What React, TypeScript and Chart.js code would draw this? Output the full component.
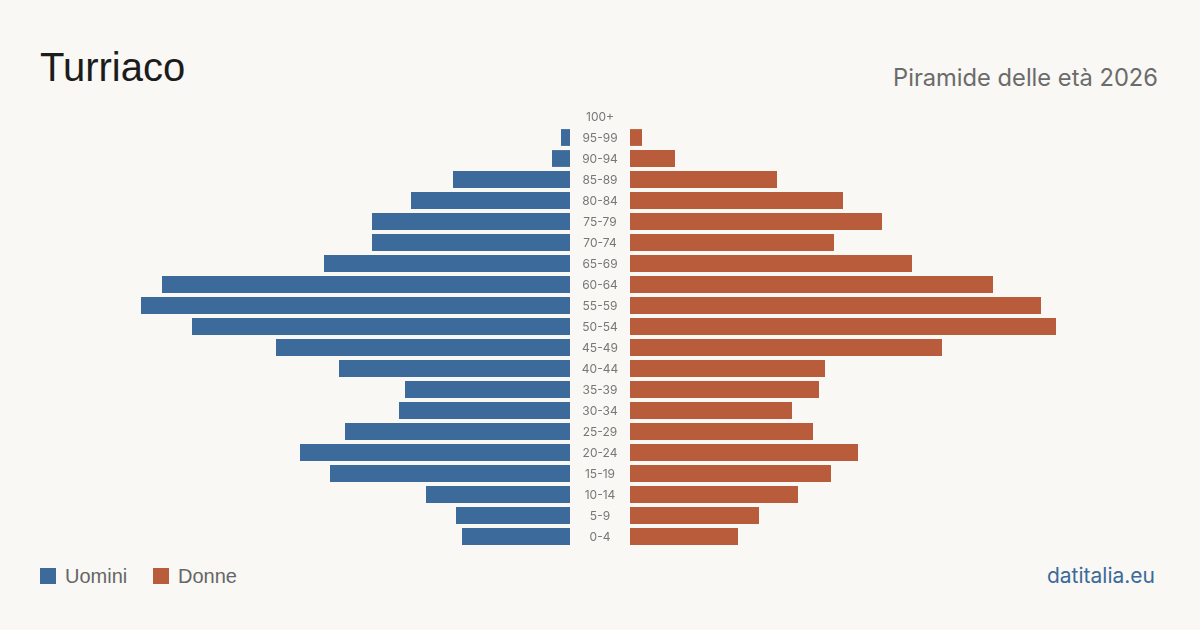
import { useEffect, useRef } from "react";
import { Chart, registerables } from "chart.js";

Chart.register(...registerables);

// Age groups, oldest at the top
const AGE_GROUPS = [
  "100+", "95-99", "90-94", "85-89", "80-84", "75-79", "70-74", "65-69", "60-64", "55-59",
  "50-54", "45-49", "40-44", "35-39", "30-34", "25-29", "20-24", "15-19", "10-14", "5-9", "0-4",
];

// Residents per age group
const MALES = [0, 3, 6, 39, 53, 66, 66, 82, 136, 143, 126, 98, 77, 55, 57, 75, 90, 80, 48, 38, 36];
const FEMALES = [0, 4, 15, 49, 71, 84, 68, 94, 121, 137, 142, 104, 65, 63, 54, 61, 76, 67, 56, 43, 36];

const AXIS_MAX = 180;

const BLUE = "#3c6a9a";
const ORANGE = "#b95c3c";
const BG = "#f9f8f4";

const PLOT_W = 540;
const PLOT_H = 441;
const GAP = 60;

// Age labels drawn in the gap between the two halves
const centerLabels = {
  id: "centerLabels",
  afterDraw(chart: any) {
    const { ctx, chartArea, scales } = chart;
    const y = scales.y;
    ctx.save();
    ctx.font = "12px Inter";
    ctx.fillStyle = "#777777";
    ctx.textAlign = "center";
    ctx.textBaseline = "middle";
    AGE_GROUPS.forEach((label, i) => {
      ctx.fillText(label, chartArea.left - GAP / 2, y.getPixelForValue(i) + 1);
    });
    ctx.restore();
  },
};

function makeOptions(reverse: boolean, padLeft: number): any {
  return {
    indexAxis: "y",
    responsive: false,
    maintainAspectRatio: false,
    animation: false,
    layout: { padding: { left: padLeft, right: 0, top: 0, bottom: 0 } },
    plugins: { legend: { display: false }, tooltip: { enabled: false } },
    scales: {
      x: { display: false, min: 0, max: AXIS_MAX, reverse },
      y: { display: false, grid: { display: false } },
    },
  };
}

export default function App() {
  const leftRef = useRef<HTMLCanvasElement>(null);
  const rightRef = useRef<HTMLCanvasElement>(null);

  useEffect(() => {
    document.body.style.margin = "0";
    let left: Chart | null = null;
    let right: Chart | null = null;
    let cancelled = false;
    const build = () => {
      if (cancelled || !leftRef.current || !rightRef.current) return;
      left = new Chart(leftRef.current, {
        type: "bar",
        data: {
          labels: AGE_GROUPS,
          datasets: [{
            label: "Uomini",
            data: MALES,
            backgroundColor: BLUE,
            categoryPercentage: 1,
            barPercentage: 0.8,
          }],
        },
        options: makeOptions(true, 0),
      });
      right = new Chart(rightRef.current, {
        type: "bar",
        data: {
          labels: AGE_GROUPS,
          datasets: [{
            label: "Donne",
            data: FEMALES,
            backgroundColor: ORANGE,
            categoryPercentage: 1,
            barPercentage: 0.8,
          }],
        },
        options: makeOptions(false, GAP),
        plugins: [centerLabels],
      });
    };
    document.fonts.load("12px Inter").then(build, build);
    return () => {
      cancelled = true;
      left?.destroy();
      right?.destroy();
    };
  }, []);

  const legendText: any = {
    position: "absolute",
    top: 566,
    fontFamily: "'Liberation Sans', Arial, sans-serif",
    fontSize: 20,
    lineHeight: "20px",
    color: "#666666",
  };

  return (
    <div style={{ position: "fixed", left: 0, top: 0, width: 1200, height: 630, background: BG, overflow: "hidden" }}>
      <div style={{ position: "absolute", left: 40, top: 47, fontFamily: "'Liberation Sans', Arial, sans-serif", fontSize: 40, lineHeight: "40px", color: "#1c1c1c" }}>
        Turriaco
      </div>
      <div style={{ position: "absolute", right: 42, top: 66, fontFamily: "Inter, sans-serif", fontSize: 23.7, lineHeight: "24px", color: "#6b6b6b" }}>
        Piramide delle età 2026
      </div>
      <canvas
        ref={leftRef}
        width={PLOT_W}
        height={PLOT_H}
        style={{ position: "absolute", left: 570 - PLOT_W, top: 106, width: PLOT_W, height: PLOT_H }}
      />
      <canvas
        ref={rightRef}
        width={PLOT_W + GAP}
        height={PLOT_H}
        style={{ position: "absolute", left: 570, top: 106, width: PLOT_W + GAP, height: PLOT_H }}
      />
      <div style={{ position: "absolute", left: 40, top: 568, width: 16, height: 16, background: BLUE }} />
      <div style={{ ...legendText, left: 65 }}>Uomini</div>
      <div style={{ position: "absolute", left: 153, top: 568, width: 16, height: 16, background: ORANGE }} />
      <div style={{ ...legendText, left: 178 }}>Donne</div>
      <div style={{ position: "absolute", right: 45, top: 565, fontFamily: "Inter, sans-serif", fontSize: 21, lineHeight: "21px", color: BLUE }}>
        datitalia.eu
      </div>
    </div>
  );
}
